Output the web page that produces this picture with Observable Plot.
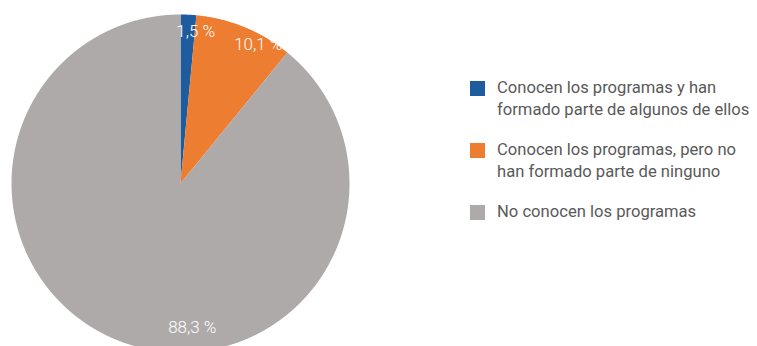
<!DOCTYPE html>
<html>
<head>
<meta charset="utf-8">
<script src="https://cdn.jsdelivr.net/npm/d3@7"></script>
<script src="https://cdn.jsdelivr.net/npm/@observablehq/plot@0.6"></script>
<style>
  html, body { margin: 0; padding: 0; background: #fff; }
  #wrap { position: relative; width: 757px; height: 346px; overflow: hidden; font-family: Roboto, sans-serif; }
  #legend { position: absolute; left: 470px; top: 77px; color: #595959; font-size: 16.6px; line-height: 22px; font-weight: 400; }
  .item { display: flex; align-items: flex-start; margin-bottom: 18px; }
  .sw { width: 15px; height: 15px; margin-top: 4px; margin-right: 12px; flex: none; }
</style>
</head>
<body>
<div id="wrap"><div id="chart"></div><div id="legend"></div></div>
<script>
const categories = [
  "Conocen los programas y han formado parte de algunos de ellos",
  "Conocen los programas, pero no han formado parte de ninguno",
  "No conocen los programas"
];
const legendLines = [
  ["Conocen los programas y han", "formado parte de algunos de ellos"],
  ["Conocen los programas, pero no", "han formado parte de ninguno"],
  ["No conocen los programas"]
];
// slice shares as drawn in the picture (angles), and the printed labels
const values = [1.5, 9.4, 89.1];
const valueLabels = ["1,5 %", "10,1 %", "88,3 %"];
const colors = ["#1f5c9e", "#ed7d31", "#aeaaaa"];

const slices = categories.map((c, i) => ({category: c, value: values[i], label: valueLabels[i]}));
const pie = d3.pie().value(d => d.value).sort(null)(slices);

const pts = [];
pie.forEach(a => {
  const k = a.data.category;
  pts.push({k, x: 0, y: 0});
  const n = Math.max(2, Math.ceil((a.endAngle - a.startAngle) / 0.005));
  for (let j = 0; j <= n; j++) {
    const t = a.startAngle + (a.endAngle - a.startAngle) * j / n;
    pts.push({k, x: Math.sin(t), y: Math.cos(t)});
  }
  pts.push({k, x: 0, y: 0});
});

const labelR = [0.9, 0.9, 0.85];
const labelDx = [8, 20, 60];
const labelDy = [0, 2, 9];
const labels = pie.map((a, i) => {
  const m = (a.startAngle + a.endAngle) / 2;
  return {label: a.data.label, x: labelR[i] * Math.sin(m), y: labelR[i] * Math.cos(m), i};
});

const cx = 180, cy = 183, r = 169;
const plot = Plot.plot({
  width: 757,
  height: 346,
  margin: 0,
  x: {domain: [-1, 1], range: [cx - r, cx + r], axis: null},
  y: {domain: [-1, 1], range: [cy + r, cy - r], axis: null},
  color: {domain: categories, range: colors},
  style: {fontFamily: "Roboto, sans-serif", overflow: "hidden"},
  marks: [
    Plot.line(pts, {x: "x", y: "y", z: "k", fill: "k", stroke: "none", curve: "linear"}),
    ...labels.map(l => Plot.text([l], {x: "x", y: "y", text: "label", fill: "white", fontSize: 17, fontWeight: 300, dx: labelDx[l.i], dy: labelDy[l.i]}))
  ]
});
document.getElementById("chart").appendChild(plot);

const leg = d3.select("#legend");
categories.forEach((c, i) => {
  const it = leg.append("div").attr("class", "item");
  it.append("div").attr("class", "sw").style("background", colors[i]);
  it.append("div").html(legendLines[i].join("<br>"));
});
</script>
</body>
</html>
